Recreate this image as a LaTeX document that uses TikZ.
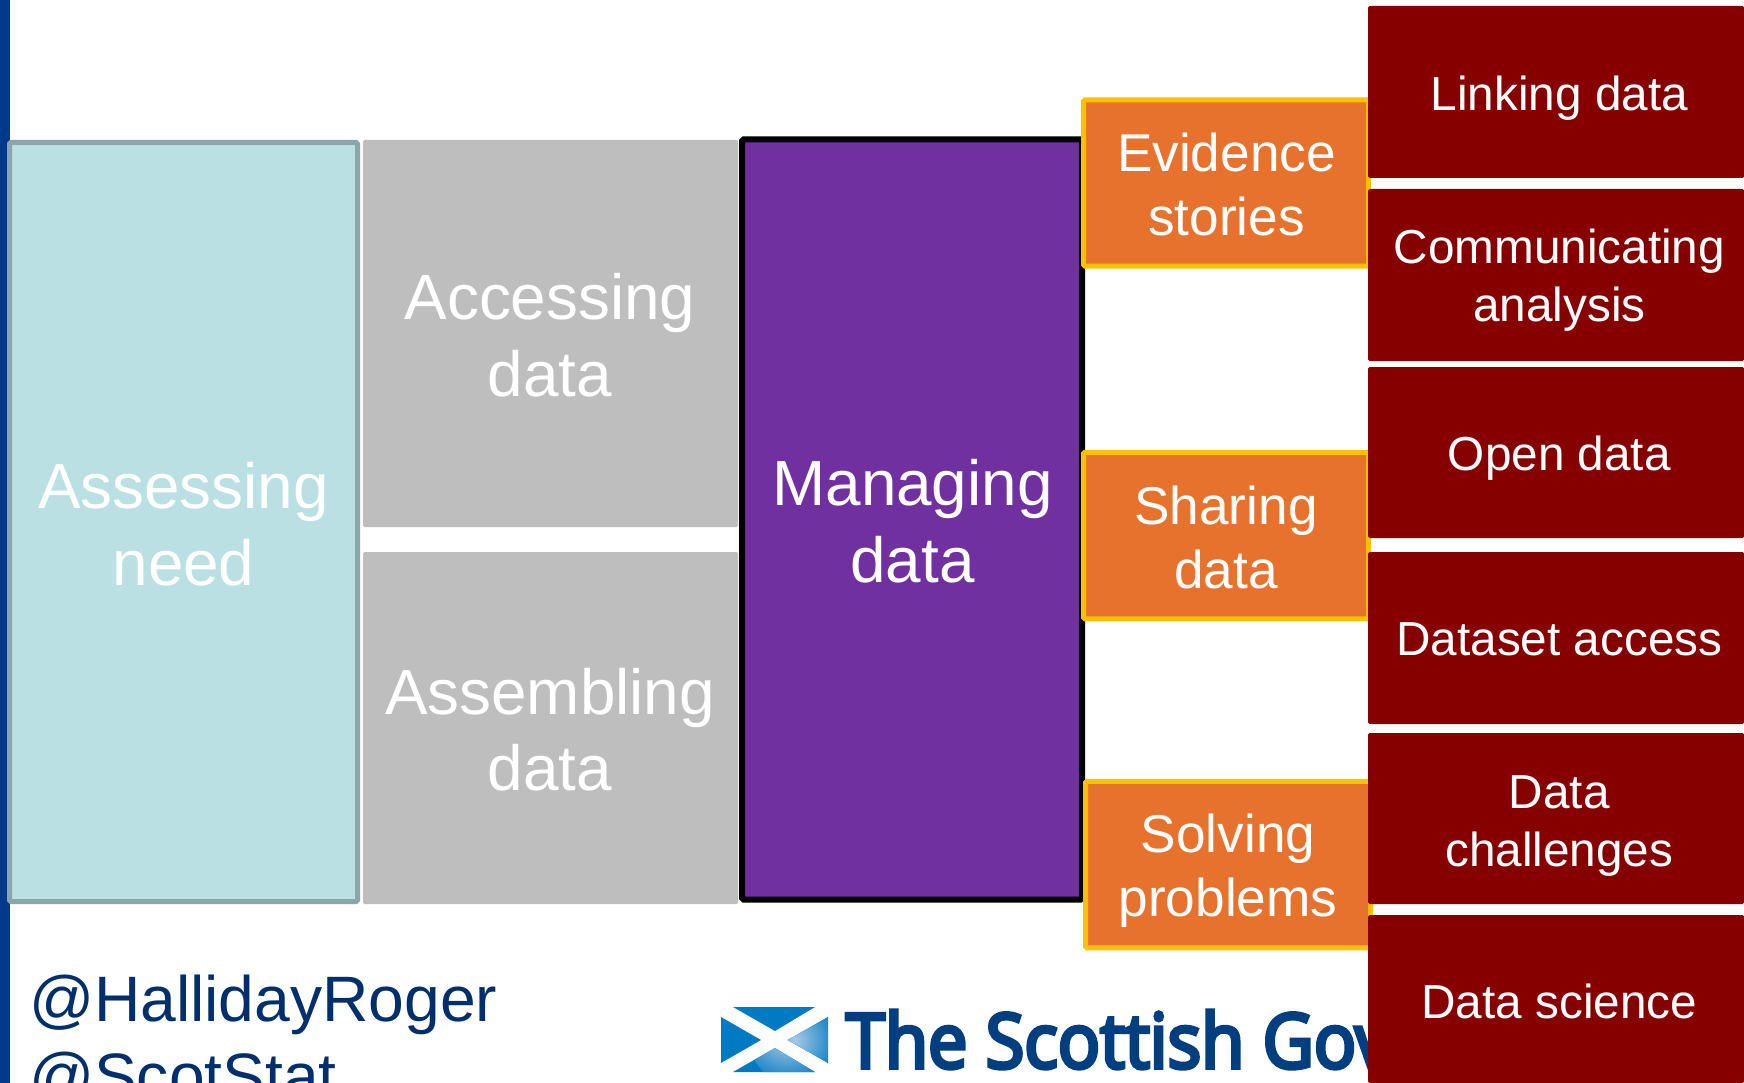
\documentclass[tikz,border=0pt]{standalone}
\usepackage{fontspec}
\setmainfont{Liberation Sans}
\newfontfamily\logofont[FakeStretch=0.925,FakeBold=5]{Open Sans}
\definecolor{navybar}{HTML}{003A8C}
\definecolor{navytext}{HTML}{002F6C}
\definecolor{tealfill}{HTML}{BAE0E3}
\definecolor{tealedge}{HTML}{8AA6A8}
\definecolor{greyfill}{HTML}{BEBEBE}
\definecolor{purplefill}{HTML}{7030A0}
\definecolor{orangefill}{HTML}{E7722E}
\definecolor{amberedge}{HTML}{FFC000}
\definecolor{redfill}{HTML}{870000}
\definecolor{saltire}{HTML}{007AC3}
\definecolor{saltirelight}{HTML}{A8C8E6}
\definecolor{logotext}{HTML}{003F7F}
\tikzset{
  basebox/.style={rectangle,rounded corners=1.5pt,inner sep=0pt,outer sep=0pt},
  boxlabel/.style={inner sep=0pt,outer sep=0pt,align=center,text=white},
  bigtext/.style={boxlabel,font=\fontsize{63.8}{76.5}\selectfont},
  midtext/.style={boxlabel,font=\fontsize{53.2}{64}\selectfont},
  smalltext/.style={boxlabel,font=\fontsize{47.7}{58}\selectfont},
  needbox/.style={basebox,fill=tealfill,draw=tealedge,line width=5pt},
  greybox/.style={basebox,fill=greyfill},
  managebox/.style={basebox,fill=purplefill,draw=black,line width=6pt},
  orangebox/.style={basebox,fill=orangefill,draw=amberedge,line width=5pt},
  redbox/.style={basebox,fill=redfill},
  handle/.style={inner sep=0pt,outer sep=0pt,anchor=base west,text=navytext,font=\fontsize{64.2}{70}\selectfont},
}
\begin{document}
\begin{tikzpicture}[x=1pt,y=-1pt]
\clip (0,0) rectangle (1744,1083);
\fill[white] (0,0) rectangle (1744,1083);
\fill[navybar] (0,0) rectangle (10,1083);
\node[needbox,minimum width=348pt,minimum height=759pt] (need) at (183.5,522) {};
\node[greybox,minimum width=375pt,minimum height=387pt] (access) at (550.5,333.5) {};
\node[greybox,minimum width=375pt,minimum height=352pt] (assemble) at (550.5,728) {};
\node[managebox,minimum width=340pt,minimum height=760pt] (manage) at (912,519.5) {};
\node[orangebox,minimum width=285pt,minimum height=166pt] (evidence) at (1226,183) {};
\node[orangebox,minimum width=285pt,minimum height=166.5pt] (sharing) at (1226,535.5) {};
\node[orangebox,minimum width=285pt,minimum height=166.5pt] (solving) at (1228,864.5) {};
\node[bigtext] at ([yshift=-2pt]need.center) {Assessing\\need};
\node[bigtext] at ([xshift=-.5pt,yshift=-1.5pt]access.center) {Accessing\\data};
\node[bigtext] at ([xshift=-.5pt,yshift=-1.5pt]assemble.center) {Assembling\\data};
\node[bigtext] at ([xshift=.5pt,yshift=-1.5pt]manage.center) {Managing\\data};
\node[midtext] at ([xshift=.5pt,yshift=-1pt]evidence.center) {Evidence\\stories};
\node[midtext] at ([yshift=-2pt]sharing.center) {Sharing\\data};
\node[midtext] at ([yshift=-6.7pt]solving.center) {Solving\\problems};
% logo
\fill[saltire] (733,1007) -- (815,1007) -- (775,1031) -- cycle;
\fill[saltire] (721,1017) -- (761,1040) -- (721,1063) -- cycle;
\fill[saltire,path picture={\shade[inner color=saltirelight,outer color=saltire] (795,1040) circle (45pt);}] (828,1017) -- (787.5,1040) -- (828,1063) -- cycle;
\fill[saltire,path picture={\shade[inner color=saltirelight,outer color=saltire] (795,1040) circle (45pt);}] (733,1072) -- (815,1072) -- (775,1048) -- cycle;
\node[inner sep=0pt,outer sep=0pt,anchor=base west,text=logotext,font=\logofont\fontsize{76}{80}\selectfont] (logo) at (846,1068) {The Scottish Gov};
% right column
\node[redbox,minimum width=376pt,minimum height=172pt] (linking) at (1556,92) {};
\node[redbox,minimum width=376pt,minimum height=172pt] (comm) at (1556,275) {};
\node[redbox,minimum width=376pt,minimum height=171pt] (open) at (1556,452.5) {};
\node[redbox,minimum width=376pt,minimum height=172pt] (dataset) at (1556,638) {};
\node[redbox,minimum width=376pt,minimum height=171pt] (challenge) at (1556,818.5) {};
\node[redbox,minimum width=376pt,minimum height=168pt] (science) at (1556,999) {};
\node[smalltext] at ([xshift=3.3pt,yshift=-6pt]linking.center) {Linking data};
\node[smalltext] at ([xshift=3.3pt,yshift=-5.5pt]comm.center) {Communicating\\analysis};
\node[smalltext] at ([xshift=3.3pt,yshift=-5.5pt]open.center) {Open data};
\node[smalltext] at ([xshift=3.3pt,yshift=-1pt]dataset.center) {Dataset access};
\node[smalltext] at ([xshift=3.3pt,yshift=-7.5pt]challenge.center) {Data\\challenges};
\node[smalltext] at ([xshift=3.3pt,yshift=-2pt]science.center) {Data science};
\node[handle] (roger) at (29,1021) {@HallidayRoger};
\node[handle] (scot) at (29,1098) {@ScotStat};
\end{tikzpicture}
\end{document}
